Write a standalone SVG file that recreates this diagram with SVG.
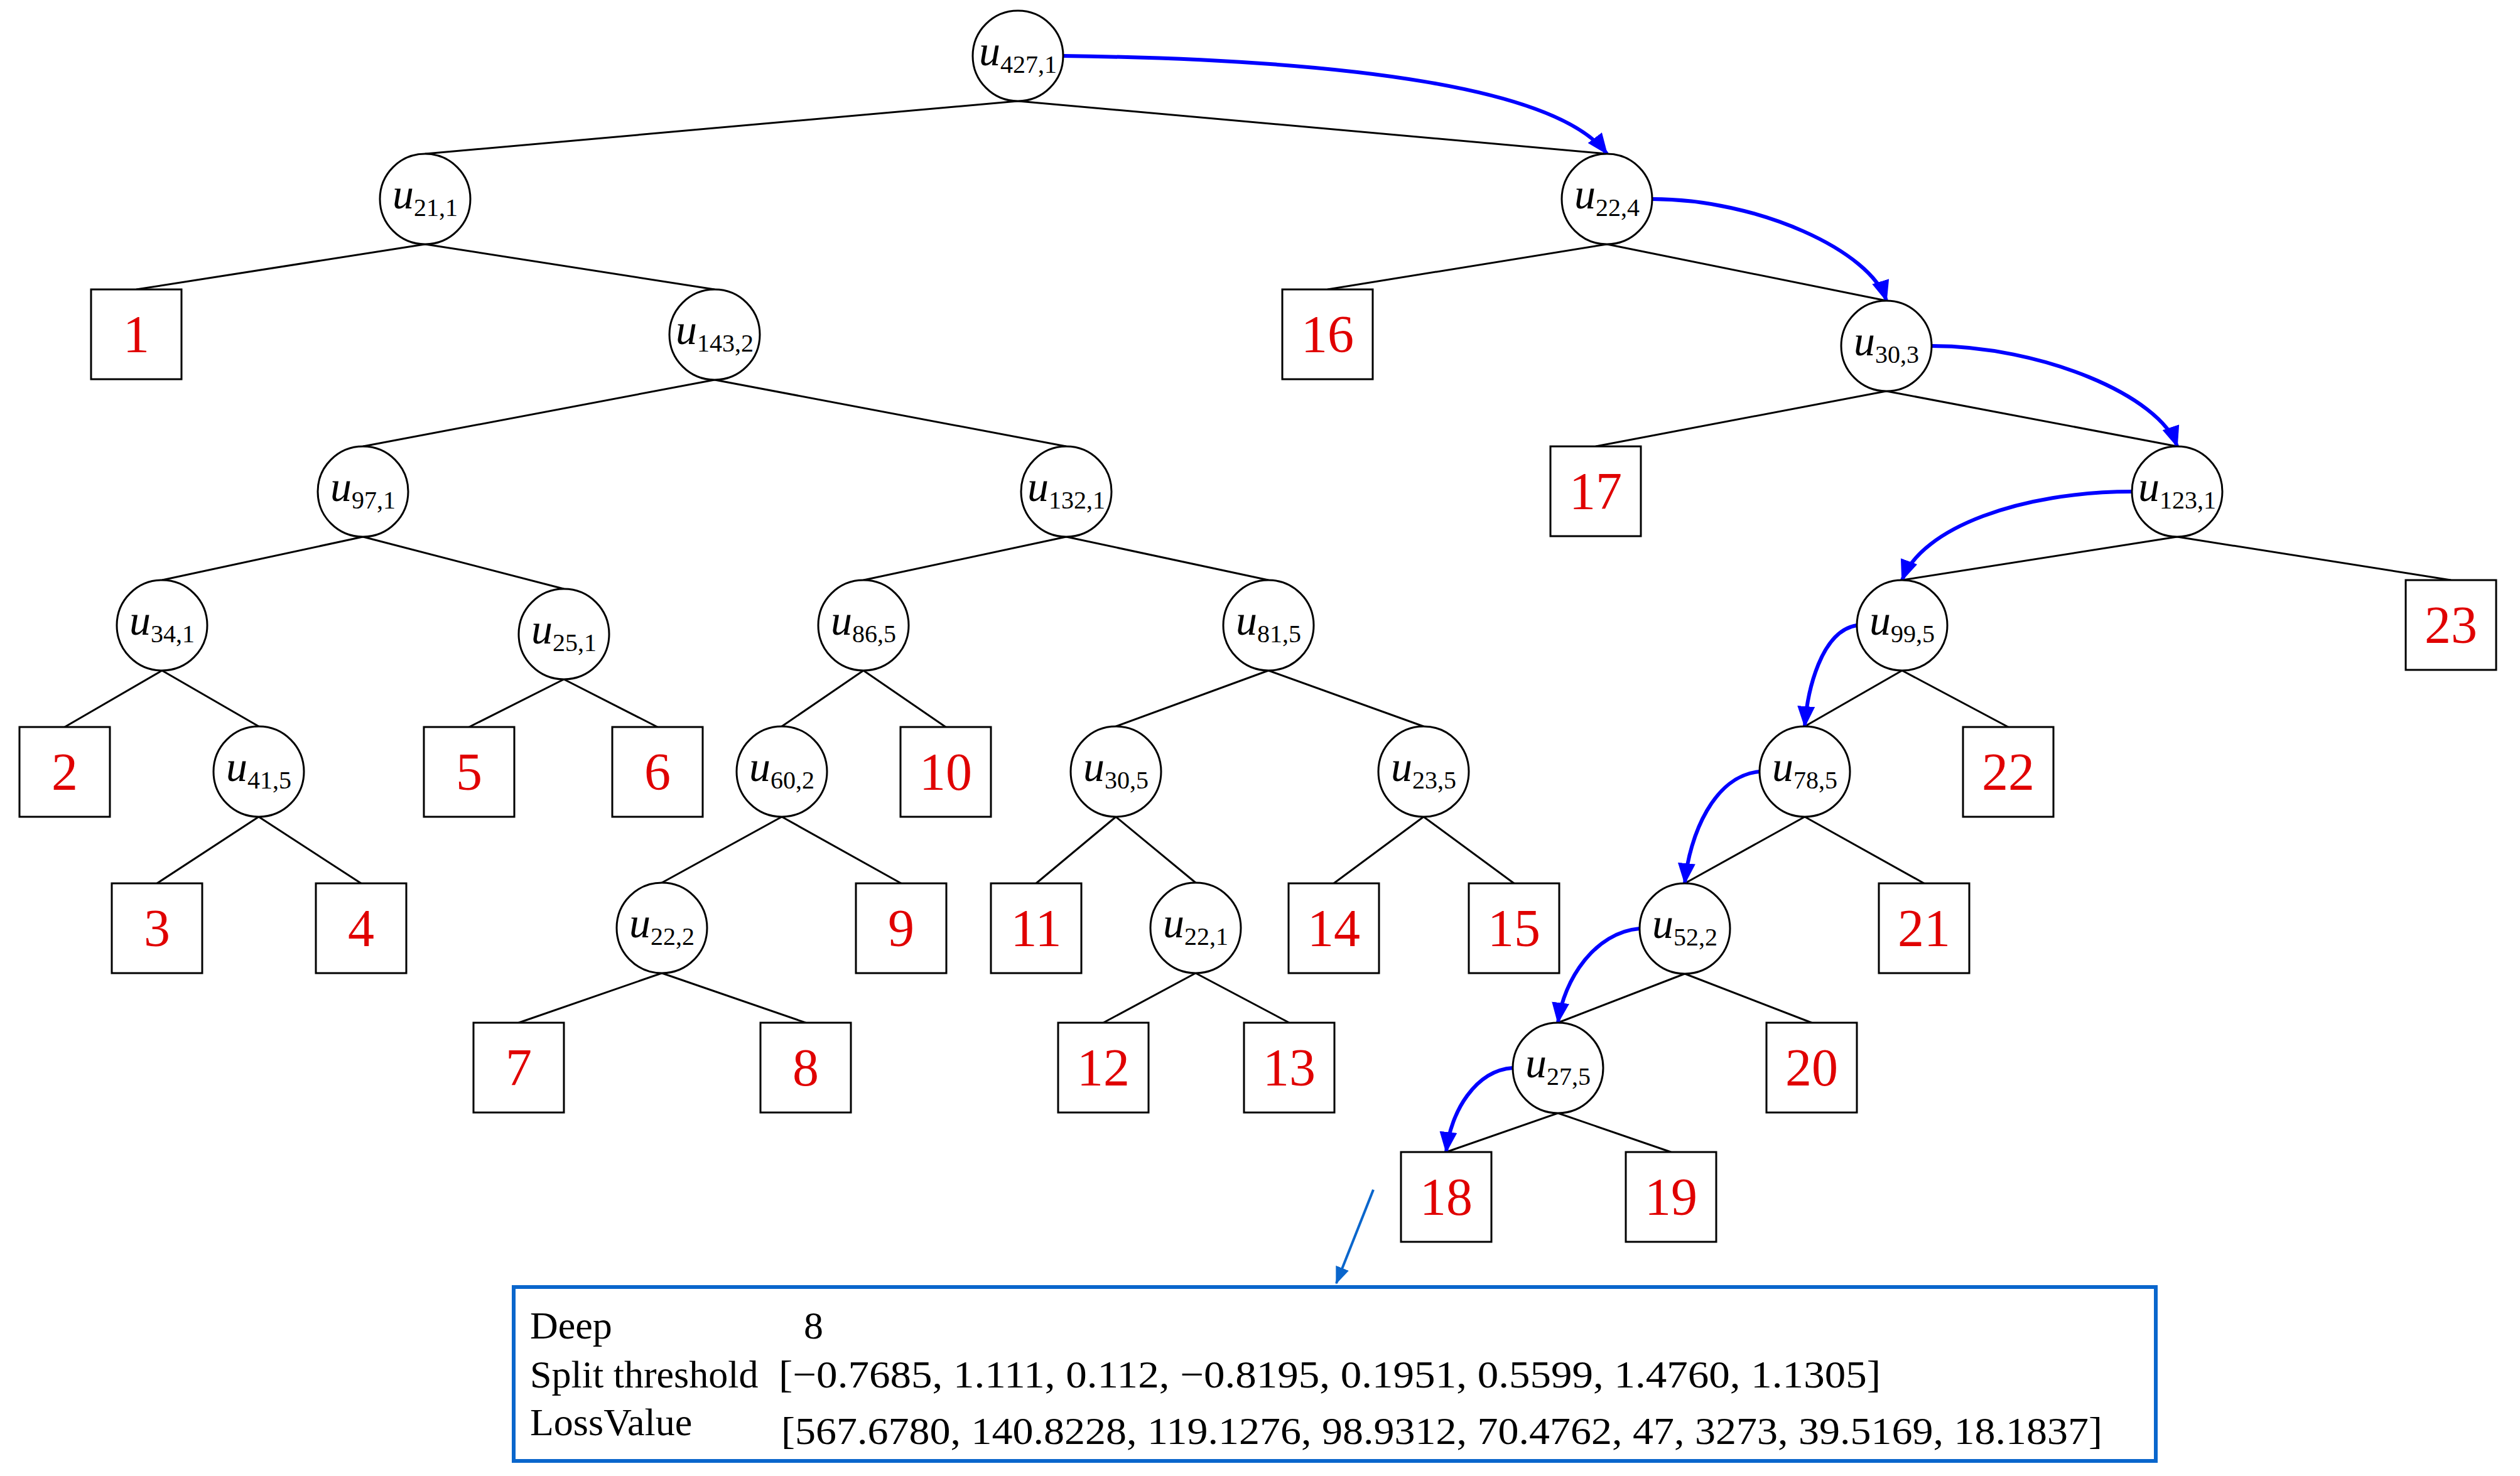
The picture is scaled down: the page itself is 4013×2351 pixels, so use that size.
<svg xmlns="http://www.w3.org/2000/svg" width="4013" height="2351" viewBox="0 0 4013 2351">
<style>
.n ellipse{fill:#fff;stroke:#000;stroke-width:3}
.n rect{fill:#fff;stroke:#000;stroke-width:3}
.u{font-family:"Liberation Serif",serif;font-size:68px;text-anchor:middle}
.u .v{font-style:italic}
.u .s{font-size:40px}
.lf{font-family:"Liberation Serif",serif;font-size:84px;fill:#e00000;text-anchor:middle}
.e line{stroke:#000;stroke-width:3}
.b path{fill:none;stroke:#0000ff;stroke-width:6}
.info{font-family:"Liberation Serif",serif;font-size:62px}
</style>
<defs>
<marker id="ah" markerUnits="userSpaceOnUse" markerWidth="34" markerHeight="28" refX="32" refY="14" orient="auto"><path d="M0,0 L34,14 L0,28 Z" fill="#0000ff"/></marker>
<marker id="ah2" markerUnits="userSpaceOnUse" markerWidth="28" markerHeight="22" refX="26" refY="11" orient="auto"><path d="M0,0 L28,11 L0,22 Z" fill="#0a66cc"/></marker>
</defs>
<g id="edges" class="e">
<line x1="1621" y1="161" x2="677" y2="245"/><line x1="1621" y1="161" x2="2559" y2="245"/>
<line x1="677" y1="389" x2="217" y2="461"/><line x1="677" y1="389" x2="1138" y2="461"/>
<line x1="1138" y1="605" x2="578" y2="711"/><line x1="1138" y1="605" x2="1698" y2="711"/>
<line x1="578" y1="855" x2="258" y2="924"/><line x1="578" y1="855" x2="898" y2="938"/>
<line x1="258" y1="1068" x2="103" y2="1158"/><line x1="258" y1="1068" x2="412" y2="1157"/>
<line x1="412" y1="1301" x2="250" y2="1407"/><line x1="412" y1="1301" x2="575" y2="1407"/>
<line x1="898" y1="1082" x2="747" y2="1158"/><line x1="898" y1="1082" x2="1047" y2="1158"/>
<line x1="1698" y1="855" x2="1375" y2="924"/><line x1="1698" y1="855" x2="2020" y2="924"/>
<line x1="1375" y1="1068" x2="1245" y2="1157"/><line x1="1375" y1="1068" x2="1506" y2="1158"/>
<line x1="1245" y1="1301" x2="1054" y2="1406"/><line x1="1245" y1="1301" x2="1435" y2="1407"/>
<line x1="1054" y1="1550" x2="826" y2="1629"/><line x1="1054" y1="1550" x2="1283" y2="1629"/>
<line x1="2020" y1="1068" x2="1777" y2="1157"/><line x1="2020" y1="1068" x2="2267" y2="1157"/>
<line x1="1777" y1="1301" x2="1650" y2="1407"/><line x1="1777" y1="1301" x2="1904" y2="1406"/>
<line x1="1904" y1="1550" x2="1757" y2="1629"/><line x1="1904" y1="1550" x2="2053" y2="1629"/>
<line x1="2267" y1="1301" x2="2124" y2="1407"/><line x1="2267" y1="1301" x2="2411" y2="1407"/>
<line x1="2559" y1="389" x2="2114" y2="461"/><line x1="2559" y1="389" x2="3004" y2="479"/>
<line x1="3004" y1="623" x2="2541" y2="711"/><line x1="3004" y1="623" x2="3467" y2="711"/>
<line x1="3467" y1="855" x2="3029" y2="924"/><line x1="3467" y1="855" x2="3903" y2="924"/>
<line x1="3029" y1="1068" x2="2874" y2="1157"/><line x1="3029" y1="1068" x2="3198" y2="1158"/>
<line x1="2874" y1="1301" x2="2683" y2="1407"/><line x1="2874" y1="1301" x2="3064" y2="1407"/>
<line x1="2683" y1="1551" x2="2481" y2="1629"/><line x1="2683" y1="1551" x2="2885" y2="1629"/>
<line x1="2481" y1="1773" x2="2303" y2="1835"/><line x1="2481" y1="1773" x2="2661" y2="1835"/>
</g>
<g id="path-arrows" class="b">
<path d="M1693,89 C2150,95 2480,140 2559,245" marker-end="url(#ah)"/>
<path d="M2631,317 C2800,317 2980,400 3004,479" marker-end="url(#ah)"/>
<path d="M3076,551 C3250,551 3440,630 3467,711" marker-end="url(#ah)"/>
<path d="M3395,783 C3220,783 3060,840 3029,924" marker-end="url(#ah)"/>
<path d="M2957,996 C2900,1005 2878,1100 2874,1157" marker-end="url(#ah)"/>
<path d="M2802,1229 C2730,1235 2690,1330 2683,1407" marker-end="url(#ah)"/>
<path d="M2611,1479 C2540,1485 2490,1560 2481,1629" marker-end="url(#ah)"/>
<path d="M2409,1701 C2350,1705 2310,1770 2303,1835" marker-end="url(#ah)"/>
</g>
<g id="u427_1" class="n"><ellipse cx="1621" cy="89" rx="72" ry="72"/><text class="u" x="1621" y="104"><tspan class="v">u</tspan><tspan class="s" dy="12">427,1</tspan></text></g>
<g id="u21_1" class="n"><ellipse cx="677" cy="317" rx="72" ry="72"/><text class="u" x="677" y="332"><tspan class="v">u</tspan><tspan class="s" dy="12">21,1</tspan></text></g>
<g id="u143_2" class="n"><ellipse cx="1138" cy="533" rx="72" ry="72"/><text class="u" x="1138" y="548"><tspan class="v">u</tspan><tspan class="s" dy="12">143,2</tspan></text></g>
<g id="u97_1" class="n"><ellipse cx="578" cy="783" rx="72" ry="72"/><text class="u" x="578" y="798"><tspan class="v">u</tspan><tspan class="s" dy="12">97,1</tspan></text></g>
<g id="u132_1" class="n"><ellipse cx="1698" cy="783" rx="72" ry="72"/><text class="u" x="1698" y="798"><tspan class="v">u</tspan><tspan class="s" dy="12">132,1</tspan></text></g>
<g id="u34_1" class="n"><ellipse cx="258" cy="996" rx="72" ry="72"/><text class="u" x="258" y="1011"><tspan class="v">u</tspan><tspan class="s" dy="12">34,1</tspan></text></g>
<g id="u25_1" class="n"><ellipse cx="898" cy="1010" rx="72" ry="72"/><text class="u" x="898" y="1025"><tspan class="v">u</tspan><tspan class="s" dy="12">25,1</tspan></text></g>
<g id="u86_5" class="n"><ellipse cx="1375" cy="996" rx="72" ry="72"/><text class="u" x="1375" y="1011"><tspan class="v">u</tspan><tspan class="s" dy="12">86,5</tspan></text></g>
<g id="u81_5" class="n"><ellipse cx="2020" cy="996" rx="72" ry="72"/><text class="u" x="2020" y="1011"><tspan class="v">u</tspan><tspan class="s" dy="12">81,5</tspan></text></g>
<g id="u41_5" class="n"><ellipse cx="412" cy="1229" rx="72" ry="72"/><text class="u" x="412" y="1244"><tspan class="v">u</tspan><tspan class="s" dy="12">41,5</tspan></text></g>
<g id="u60_2" class="n"><ellipse cx="1245" cy="1229" rx="72" ry="72"/><text class="u" x="1245" y="1244"><tspan class="v">u</tspan><tspan class="s" dy="12">60,2</tspan></text></g>
<g id="u30_5" class="n"><ellipse cx="1777" cy="1229" rx="72" ry="72"/><text class="u" x="1777" y="1244"><tspan class="v">u</tspan><tspan class="s" dy="12">30,5</tspan></text></g>
<g id="u23_5" class="n"><ellipse cx="2267" cy="1229" rx="72" ry="72"/><text class="u" x="2267" y="1244"><tspan class="v">u</tspan><tspan class="s" dy="12">23,5</tspan></text></g>
<g id="u22_2" class="n"><ellipse cx="1054" cy="1478" rx="72" ry="72"/><text class="u" x="1054" y="1493"><tspan class="v">u</tspan><tspan class="s" dy="12">22,2</tspan></text></g>
<g id="u22_1" class="n"><ellipse cx="1904" cy="1478" rx="72" ry="72"/><text class="u" x="1904" y="1493"><tspan class="v">u</tspan><tspan class="s" dy="12">22,1</tspan></text></g>
<g id="u22_4" class="n"><ellipse cx="2559" cy="317" rx="72" ry="72"/><text class="u" x="2559" y="332"><tspan class="v">u</tspan><tspan class="s" dy="12">22,4</tspan></text></g>
<g id="u30_3" class="n"><ellipse cx="3004" cy="551" rx="72" ry="72"/><text class="u" x="3004" y="566"><tspan class="v">u</tspan><tspan class="s" dy="12">30,3</tspan></text></g>
<g id="u123_1" class="n"><ellipse cx="3467" cy="783" rx="72" ry="72"/><text class="u" x="3467" y="798"><tspan class="v">u</tspan><tspan class="s" dy="12">123,1</tspan></text></g>
<g id="u99_5" class="n"><ellipse cx="3029" cy="996" rx="72" ry="72"/><text class="u" x="3029" y="1011"><tspan class="v">u</tspan><tspan class="s" dy="12">99,5</tspan></text></g>
<g id="u78_5" class="n"><ellipse cx="2874" cy="1229" rx="72" ry="72"/><text class="u" x="2874" y="1244"><tspan class="v">u</tspan><tspan class="s" dy="12">78,5</tspan></text></g>
<g id="u52_2" class="n"><ellipse cx="2683" cy="1479" rx="72" ry="72"/><text class="u" x="2683" y="1494"><tspan class="v">u</tspan><tspan class="s" dy="12">52,2</tspan></text></g>
<g id="u27_5" class="n"><ellipse cx="2481" cy="1701" rx="72" ry="72"/><text class="u" x="2481" y="1716"><tspan class="v">u</tspan><tspan class="s" dy="12">27,5</tspan></text></g>
<g id="leaf1" class="n"><rect x="145" y="461" width="144" height="143"/><text class="lf" x="217" y="561">1</text></g>
<g id="leaf2" class="n"><rect x="31" y="1158" width="144" height="143"/><text class="lf" x="103" y="1258">2</text></g>
<g id="leaf3" class="n"><rect x="178" y="1407" width="144" height="143"/><text class="lf" x="250" y="1507">3</text></g>
<g id="leaf4" class="n"><rect x="503" y="1407" width="144" height="143"/><text class="lf" x="575" y="1507">4</text></g>
<g id="leaf5" class="n"><rect x="675" y="1158" width="144" height="143"/><text class="lf" x="747" y="1258">5</text></g>
<g id="leaf6" class="n"><rect x="975" y="1158" width="144" height="143"/><text class="lf" x="1047" y="1258">6</text></g>
<g id="leaf7" class="n"><rect x="754" y="1629" width="144" height="143"/><text class="lf" x="826" y="1729">7</text></g>
<g id="leaf8" class="n"><rect x="1211" y="1629" width="144" height="143"/><text class="lf" x="1283" y="1729">8</text></g>
<g id="leaf9" class="n"><rect x="1363" y="1407" width="144" height="143"/><text class="lf" x="1435" y="1507">9</text></g>
<g id="leaf10" class="n"><rect x="1434" y="1158" width="144" height="143"/><text class="lf" x="1506" y="1258">10</text></g>
<g id="leaf11" class="n"><rect x="1578" y="1407" width="144" height="143"/><text class="lf" x="1650" y="1507">11</text></g>
<g id="leaf12" class="n"><rect x="1685" y="1629" width="144" height="143"/><text class="lf" x="1757" y="1729">12</text></g>
<g id="leaf13" class="n"><rect x="1981" y="1629" width="144" height="143"/><text class="lf" x="2053" y="1729">13</text></g>
<g id="leaf14" class="n"><rect x="2052" y="1407" width="144" height="143"/><text class="lf" x="2124" y="1507">14</text></g>
<g id="leaf15" class="n"><rect x="2339" y="1407" width="144" height="143"/><text class="lf" x="2411" y="1507">15</text></g>
<g id="leaf16" class="n"><rect x="2042" y="461" width="144" height="143"/><text class="lf" x="2114" y="561">16</text></g>
<g id="leaf17" class="n"><rect x="2469" y="711" width="144" height="143"/><text class="lf" x="2541" y="811">17</text></g>
<g id="leaf18" class="n"><rect x="2231" y="1835" width="144" height="143"/><text class="lf" x="2303" y="1935">18</text></g>
<g id="leaf19" class="n"><rect x="2589" y="1835" width="144" height="143"/><text class="lf" x="2661" y="1935">19</text></g>
<g id="leaf20" class="n"><rect x="2813" y="1629" width="144" height="143"/><text class="lf" x="2885" y="1729">20</text></g>
<g id="leaf21" class="n"><rect x="2992" y="1407" width="144" height="143"/><text class="lf" x="3064" y="1507">21</text></g>
<g id="leaf22" class="n"><rect x="3126" y="1158" width="144" height="143"/><text class="lf" x="3198" y="1258">22</text></g>
<g id="leaf23" class="n"><rect x="3831" y="924" width="144" height="143"/><text class="lf" x="3903" y="1024">23</text></g>
<g id="info">
<line x1="2187" y1="1895" x2="2128" y2="2044" stroke="#0a66cc" stroke-width="4" marker-end="url(#ah2)"/>
<rect x="818" y="2050" width="2615" height="277" fill="#fff" stroke="#0a66cc" stroke-width="6"/>
<text class="info" x="844" y="2132">Deep</text>
<text class="info" x="1280" y="2132">8</text>
<text class="info" x="844" y="2210">Split threshold</text>
<text class="info" x="1240" y="2210" textLength="1755" lengthAdjust="spacingAndGlyphs">[−0.7685, 1.111, 0.112,  −0.8195, 0.1951, 0.5599, 1.4760, 1.1305]</text>
<text class="info" x="844" y="2286">LossValue</text>
<text class="info" x="1244" y="2300" textLength="2104" lengthAdjust="spacingAndGlyphs">[567.6780, 140.8228, 119.1276, 98.9312, 70.4762, 47, 3273, 39.5169, 18.1837]</text>
</g>
</svg>
